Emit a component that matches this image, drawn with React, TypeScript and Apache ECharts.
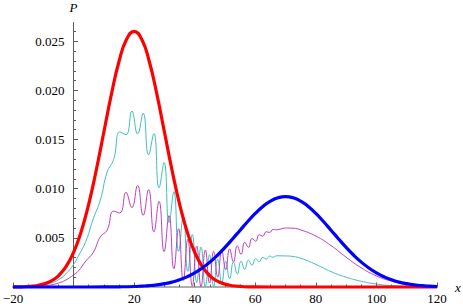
import React, { useEffect, useRef } from "react";
import * as echarts from "echarts";

// ---- data (x, P) ----
const redCurve: [number, number][] = [
  [-20, 0.00001], [-17.5, 0.00002], [-15, 0.00006], [-12.5, 0.00013], [-10, 0.00029],
  [-7.5, 0.00059], [-5, 0.00114], [-2.5, 0.00207], [0, 0.00352], [2.5, 0.00562],
  [5, 0.00844], [7.5, 0.0119], [10, 0.01577], [12.5, 0.01962], [15, 0.02294],
  [17.5, 0.0252], [20, 0.026], [22.5, 0.0252], [25, 0.02294], [27.5, 0.01962],
  [30, 0.01577], [32.5, 0.0119], [35, 0.00844], [37.5, 0.00562], [40, 0.00352],
  [42.5, 0.00207], [45, 0.00114], [47.5, 0.00059], [50, 0.00029], [52.5, 0.00013],
  [55, 0.00006], [57.5, 0.00002], [60, 0.00001], [70, 0], [80, 0], [90, 0],
  [100, 0], [110, 0], [120, 0],
];

const blueCurve: [number, number][] = [
  [-20, 0], [0, 0], [10, 0.00001], [15, 0.00002], [20, 0.00005], [22.5, 0.00009],
  [25, 0.00014], [27.5, 0.00022], [30, 0.00034], [32.5, 0.0005], [35, 0.00073],
  [37.5, 0.00104], [40, 0.00143], [42.5, 0.00193], [45, 0.00253], [47.5, 0.00323],
  [50, 0.00403], [52.5, 0.00489], [55, 0.00578], [57.5, 0.00666], [60, 0.00748],
  [62.5, 0.00819], [65, 0.00874], [67.5, 0.00908], [70, 0.0092], [72.5, 0.00908],
  [75, 0.00874], [77.5, 0.00819], [80, 0.00748], [82.5, 0.00666], [85, 0.00578],
  [87.5, 0.00489], [90, 0.00403], [92.5, 0.00323], [95, 0.00253], [97.5, 0.00193],
  [100, 0.00143], [102.5, 0.00104], [105, 0.00073], [107.5, 0.0005], [110, 0.00034],
  [112.5, 0.00022], [115, 0.00014], [117.5, 0.00009], [120, 0.00005],
];

const cyanCurve: [number, number][] = [
  [-20, 0.00001], [-15, 0.00004], [-10, 0.00019], [-7.5, 0.00039], [-5, 0.00074],
  [-2.5, 0.00135], [0, 0.00229], [1.5, 0.0031], [4.07, 0.00466], [6.51, 0.00695],
  [8.84, 0.00884], [11.07, 0.01168], [13.23, 0.01298], [15.3, 0.01577], [17.31, 0.01549],
  [19.25, 0.0179], [21.14, 0.01556], [22.98, 0.01767], [24.77, 0.01345], [26.52, 0.01561],
  [28.22, 0.01009], [29.89, 0.01267], [31.52, 0.00656], [33.12, 0.0097], [34.68, 0.00363],
  [36.22, 0.00719], [37.73, 0.00159], [39.2, 0.00533], [40.66, 0.00046], [42.09, 0.00407],
  [43.5, 0.00003], [44.89, 0.00327], [46.25, 0.00007], [47.6, 0.00283], [48.93, 0.00039],
  [50.24, 0.00261], [51.52, 0.00084], [52.8, 0.00256], [54.06, 0.00133], [55.3, 0.00262],
  [56.53, 0.0018], [57.74, 0.00273], [58.94, 0.00222], [60.12, 0.00288], [61.3, 0.00257],
  [62.46, 0.00302], [63.6, 0.00284], [64.74, 0.00314], [65.86, 0.00303], [66.97, 0.00317],
  [70, 0.00316], [72.5, 0.0031], [75, 0.00293], [80, 0.0023], [85, 0.00156],
  [90, 0.001], [95, 0.00058], [100, 0.0003], [105, 0.00014], [110, 0.00006],
  [115, 0.00003], [120, 0.00001],
];

const magentaCurve: [number, number][] = [
  [-20, 0], [-15, 0.00002], [-10, 0.0001], [-7.5, 0.00021], [-5, 0.0004],
  [-2.5, 0.00072], [0, 0.00123], [1.5, 0.0016], [4.07, 0.00265], [6.51, 0.00352],
  [8.84, 0.00511], [11.07, 0.00578], [13.23, 0.00772], [15.3, 0.00753], [17.31, 0.00962],
  [19.25, 0.00808], [21.14, 0.01033], [22.98, 0.0073], [24.77, 0.0099], [26.52, 0.0056],
  [28.22, 0.00871], [29.89, 0.0036], [31.52, 0.00726], [33.12, 0.00186], [34.68, 0.00593],
  [36.22, 0.00066], [37.73, 0.00488], [39.2, 0.00008], [40.66, 0.00417], [42.09, 0.00004],
  [43.5, 0.00377], [44.89, 0.0004], [46.25, 0.00363], [47.6, 0.00101], [48.93, 0.00368],
  [50.24, 0.00176], [51.52, 0.00388], [52.8, 0.00255], [54.06, 0.00419], [55.3, 0.00332],
  [56.53, 0.00456], [57.74, 0.00403], [58.94, 0.00494], [60.12, 0.00465], [61.3, 0.00531],
  [62.46, 0.00517], [63.6, 0.00562], [64.74, 0.00555], [65.86, 0.00585], [66.97, 0.00582],
  [70, 0.006], [72.5, 0.00598], [75, 0.00581], [80, 0.00518], [85, 0.00422],
  [90, 0.00303], [95, 0.00195], [100, 0.00113], [105, 0.00059], [110, 0.00028],
  [115, 0.00012], [120, 0.00004],
];

// ---- axes ----
const X_MIN = -20;
const X_MAX = 120;
const Y_MAX = 0.0269;
const yMajorTicks = [0.005, 0.01, 0.015, 0.02, 0.025];
const yMinorTicks = [
  0.001, 0.002, 0.003, 0.004, 0.006, 0.007, 0.008, 0.009, 0.011, 0.012, 0.013,
  0.014, 0.016, 0.017, 0.018, 0.019, 0.021, 0.022, 0.023, 0.024, 0.026,
];
const xAxisExtent: [number, number][] = [[-21.2, 0], [123.3, 0]];

const W = 463;
const H = 307;
const GRID = { left: 13, right: 26, top: 22.6, bottom: 20 };

const FONT = "Liberation Serif";
const AXIS_COLOR = "#5c5c5c";
const RED = "#ff0000";
const BLUE = "#0000ff";
const CYAN = "#3fbfbf";
const MAGENTA = "#bf3fbf";

function fmtX(v: number): string {
  if (v === 0) return "";
  return v < 0 ? "\u2212" + String(Math.abs(v)) : String(v);
}

export default function App() {
  const ref = useRef<HTMLDivElement>(null);

  useEffect(() => {
    if (!ref.current) return;
    const chart = echarts.init(ref.current, null, { renderer: "svg" });
    const labelStyle = { color: "#000", fontFamily: FONT, fontSize: 13 };
    // shift the y axis from the grid's left edge to x = 0
    const gridWidth = W - GRID.left - GRID.right;
    const yOffset = -((0 - X_MIN) / (X_MAX - X_MIN)) * gridWidth;
    const curve = (data: [number, number][], color: string, width: number, z: number) => ({
      type: "line",
      data,
      smooth: 0.5,
      symbol: "none",
      clip: false,
      silent: true,
      z,
      lineStyle: { color, width },
    });
    chart.setOption({
      animation: false,
      backgroundColor: "#fff",
      textStyle: { fontFamily: FONT },
      grid: { ...GRID, containLabel: false, outerBoundsMode: "none" },
      xAxis: {
        type: "value",
        min: X_MIN,
        max: X_MAX,
        interval: 20,
        axisLine: { show: false, onZero: false },
        axisTick: { show: true, inside: true, length: 4.5, lineStyle: { color: AXIS_COLOR } },
        minorTick: { show: true, splitNumber: 4, length: 2.5, lineStyle: { color: AXIS_COLOR } },
        axisLabel: { ...labelStyle, margin: 5, formatter: fmtX },
        splitLine: { show: false },
        minorSplitLine: { show: false },
        name: "x",
        nameLocation: "end",
        nameGap: 18,
        nameMoveOverlap: false,
        nameTextStyle: { ...labelStyle, fontStyle: "italic" },
      },
      yAxis: [
        {
          type: "value",
          min: 0,
          max: Y_MAX,
          position: "left",
          offset: yOffset,
          axisLine: { show: true, onZero: false, lineStyle: { color: AXIS_COLOR, width: 1 } },
          axisTick: {
            show: true,
            inside: true,
            length: 4.5,
            customValues: yMajorTicks,
            lineStyle: { color: AXIS_COLOR },
          },
          axisLabel: {
            ...labelStyle,
            margin: 9,
            customValues: yMajorTicks,
            formatter: (v: number) => v.toFixed(3),
          },
          splitLine: { show: false },
          name: "P",
          nameLocation: "end",
          nameGap: 9,
          nameMoveOverlap: false,
          nameTextStyle: { ...labelStyle, fontStyle: "italic" },
        },
        {
          type: "value",
          min: 0,
          max: Y_MAX,
          position: "left",
          offset: yOffset,
          axisLine: { show: false, onZero: false },
          axisTick: {
            show: true,
            inside: true,
            length: 2.5,
            customValues: yMinorTicks,
            lineStyle: { color: AXIS_COLOR },
          },
          axisLabel: { show: false },
          splitLine: { show: false },
        },
      ],
      series: [
        {
          type: "line",
          data: xAxisExtent,
          symbol: "none",
          clip: false,
          silent: true,
          z: 1,
          lineStyle: { color: AXIS_COLOR, width: 1 },
        },
        curve(cyanCurve, CYAN, 1, 2),
        curve(magentaCurve, MAGENTA, 1, 3),
        curve(redCurve, RED, 3.2, 4),
        curve(blueCurve, BLUE, 3.2, 5),
      ],
    });
    return () => chart.dispose();
  }, []);

  return (
    <div
      ref={ref}
      style={{ position: "fixed", left: 0, top: 0, width: W, height: H, background: "#fff" }}
    />
  );
}
